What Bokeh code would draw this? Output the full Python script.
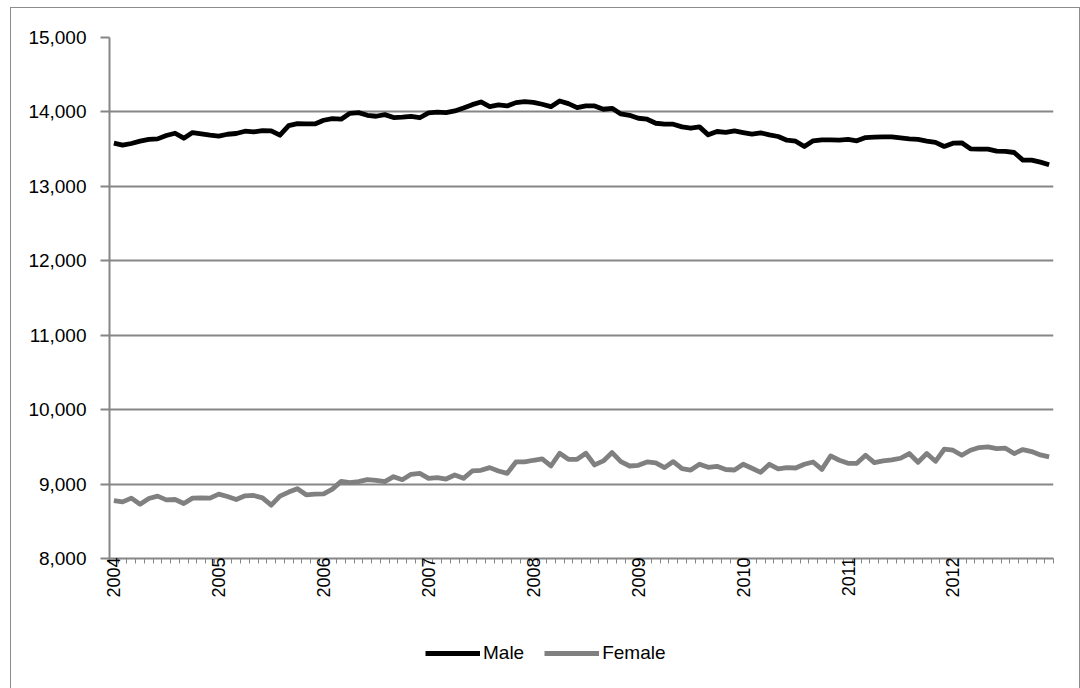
import numpy as np
from bokeh.plotting import figure
from bokeh.layouts import column
from bokeh.models import FixedTicker, NumeralTickFormatter, Legend, LegendItem, Range1d
from bokeh.embed import file_html
from bokeh.resources import INLINE

years = ["2004", "2005", "2006", "2007", "2008", "2009", "2010", "2011", "2012"]

male = [13580, 13553, 13576, 13607, 13630, 13638, 13683, 13714, 13647, 13723, 13705, 13687,
        13674, 13700, 13710, 13741, 13732, 13750, 13746, 13687, 13817, 13844, 13839, 13839,
        13888, 13911, 13902, 13982, 13991, 13955, 13942, 13964, 13924, 13929, 13940, 13922,
        13987, 13996, 13991, 14013, 14054, 14098, 14134, 14071, 14094, 14080, 14125, 14138,
        14129, 14103, 14071, 14147, 14111, 14058, 14080, 14080, 14036, 14049, 13973, 13955,
        13915, 13902, 13848, 13835, 13835, 13799, 13781, 13799, 13692, 13737, 13725, 13746,
        13723, 13701, 13719, 13692, 13670, 13620, 13607, 13536, 13612, 13625, 13625, 13620,
        13630, 13612, 13656, 13661, 13665, 13665, 13652, 13638, 13630, 13607, 13590, 13536,
        13580, 13585, 13504, 13500, 13500, 13473, 13469, 13455, 13353, 13353, 13326, 13290]

female = [8779, 8761, 8811, 8730, 8806, 8838, 8788, 8793, 8739, 8811, 8815, 8811,
          8865, 8833, 8793, 8842, 8847, 8815, 8716, 8838, 8892, 8937, 8856, 8865,
          8869, 8932, 9036, 9018, 9032, 9059, 9050, 9032, 9099, 9059, 9131, 9144,
          9077, 9086, 9068, 9122, 9077, 9176, 9185, 9221, 9176, 9144, 9297, 9297,
          9320, 9338, 9243, 9414, 9333, 9333, 9414, 9257, 9311, 9423, 9302, 9243,
          9252, 9297, 9284, 9221, 9302, 9207, 9189, 9266, 9225, 9239, 9196, 9189,
          9266, 9212, 9158, 9266, 9203, 9221, 9216, 9266, 9297, 9198, 9378, 9320,
          9279, 9279, 9387, 9288, 9311, 9324, 9347, 9410, 9293, 9410, 9306, 9468,
          9455, 9387, 9455, 9491, 9500, 9477, 9482, 9410, 9464, 9437, 9392, 9365]

x = np.arange(len(male))
n = len(male)

grey = "#868686"
font = "Liberation Sans"
male_color = "black"
female_color = "#808080"

p = figure(frame_width=944, frame_height=521,
           min_border_left=98, min_border_right=26, min_border_top=29, min_border_bottom=60,
           output_backend="svg", toolbar_location=None,
           x_range=Range1d(-0.5, n - 0.5), y_range=Range1d(8000, 15000))
p.outline_line_color = None
p.background_fill_color = "white"
p.border_fill_color = "white"

# y axis
p.yaxis.ticker = FixedTicker(ticks=list(range(8000, 15001, 1000)))
p.yaxis.formatter = NumeralTickFormatter(format="0,0")
p.yaxis.axis_line_color = grey
p.yaxis.axis_line_width = 2
p.yaxis.major_tick_line_color = grey
p.yaxis.major_tick_line_width = 2
p.yaxis.major_tick_out = 9
p.yaxis.major_tick_in = 0
p.yaxis.minor_tick_line_color = None
p.yaxis.major_label_text_font = font
p.yaxis.major_label_text_font_size = "19px"
p.yaxis.major_label_text_color = "black"
p.yaxis.major_label_standoff = 14

# x axis
year_pos = [12 * k for k in range(len(years))]
p.xaxis.ticker = FixedTicker(ticks=year_pos, minor_ticks=[i - 0.5 for i in range(n + 1)])
p.xaxis.major_label_overrides = {pos: lab for pos, lab in zip(year_pos, years)}
p.xaxis.major_label_orientation = np.pi / 2
p.xaxis.major_tick_line_color = None
p.xaxis.major_tick_out = 0
p.xaxis.major_tick_in = 0
p.xaxis.minor_tick_line_color = grey
p.xaxis.minor_tick_line_width = 1
p.xaxis.minor_tick_out = 5
p.xaxis.minor_tick_in = 0
p.xaxis.axis_line_color = grey
p.xaxis.axis_line_width = 2
p.xaxis.major_label_text_font = font
p.xaxis.major_label_text_font_size = "18px"
p.xaxis.major_label_text_color = "black"
p.xaxis.major_label_standoff = -6

p.xgrid.grid_line_color = None
p.ygrid.grid_line_color = grey
p.ygrid.grid_line_width = 2

p.line(x, male, line_color=male_color, line_width=4.8, line_join="round")
p.line(x, female, line_color=female_color, line_width=4.8, line_join="round")

# legend strip below the chart (same series, drawn out of view; only legend shows)
leg = figure(width=1068, height=72, min_border=0, output_backend="svg", toolbar_location=None,
             x_axis_location=None, y_axis_location=None,
             x_range=Range1d(1000, 1001), y_range=Range1d(0, 1))
leg.outline_line_color = None
leg.xgrid.visible = False
leg.ygrid.visible = False
lm = leg.line(x, male, line_color=male_color, line_width=4.8)
lf = leg.line(x, female, line_color=female_color, line_width=4.8)
legend = Legend(items=[LegendItem(label="Male", renderers=[lm]),
                       LegendItem(label="Female", renderers=[lf])],
                orientation="horizontal", location=(316, 26),
                glyph_width=55, glyph_height=20, label_standoff=3, spacing=20,
                padding=0, margin=0, border_line_color=None,
                background_fill_alpha=0,
                label_text_font=font, label_text_font_size="19px",
                label_text_color="black")
leg.add_layout(legend, "center")

layout = column(p, leg, spacing=0)
layout.styles = {"border": "1px solid #8c8c8c", "position": "relative", "left": "10px", "top": "7px",
                 "background-color": "white"}

open("out.html", "w").write(file_html(layout, INLINE))
